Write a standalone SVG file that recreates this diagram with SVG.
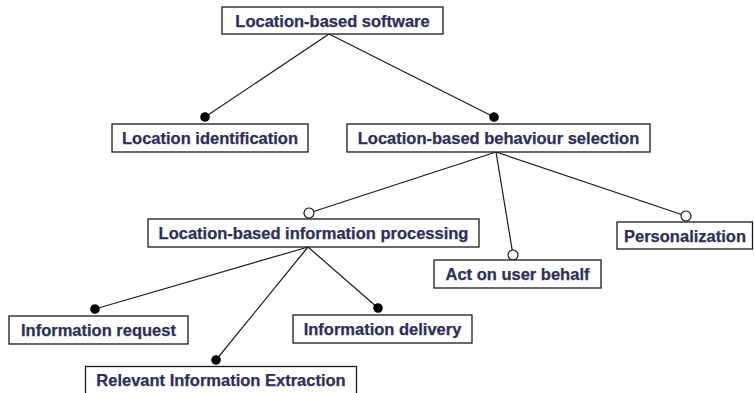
<svg xmlns="http://www.w3.org/2000/svg" width="754" height="393" viewBox="0 0 754 393">
<style>
.box{fill:#fff;stroke:#1a1a1a;stroke-width:1.3}
.lbl{font-family:"Liberation Sans",Arial,sans-serif;font-weight:bold;font-size:16.5px;fill:#2e2e58;stroke:#2e2e58;stroke-width:0.25;text-anchor:middle}
.con{fill:none;stroke:#1a1a1a;stroke-width:1.2}
.mand{marker-end:url(#filled)}
.opt{marker-end:url(#open)}
</style>
<defs>
<marker id="filled" markerUnits="userSpaceOnUse" viewBox="-6 -6 12 12" refX="0" refY="0" markerWidth="12" markerHeight="12" orient="auto">
<circle r="4.8" fill="#000"/>
</marker>
<marker id="open" markerUnits="userSpaceOnUse" viewBox="-7 -7 14 14" refX="0" refY="0" markerWidth="14" markerHeight="14" orient="auto">
<circle r="5" fill="#fff" stroke="#1a1a1a" stroke-width="1.2"/>
</marker>
</defs>
<rect width="754" height="393" fill="#fff"/>
<g id="connectors">
<path class="con mand" d="M329,34 L205,117"/>
<path class="con mand" d="M329,34 L494,117"/>
<path class="con opt" d="M496,152 L309,213"/>
<path class="con opt" d="M496,152 L513,255"/>
<path class="con opt" d="M496,152 L686,216"/>
<path class="con mand" d="M308,247 L95,309"/>
<path class="con mand" d="M308,247 L216,360"/>
<path class="con mand" d="M308,247 L378,308"/>
</g>
<g id="node-software"><rect class="box" x="222" y="7" width="221" height="27"/><text class="lbl" x="332.5" y="27">Location-based software</text></g>
<g id="node-identification"><rect class="box" x="112" y="124" width="196" height="28"/><text class="lbl" x="210" y="144">Location identification</text></g>
<g id="node-behaviour"><rect class="box" x="347" y="124" width="303" height="28"/><text class="lbl" x="498.5" y="144">Location-based behaviour selection</text></g>
<g id="node-processing"><rect class="box" x="148" y="219" width="331" height="28"/><text class="lbl" x="313.5" y="239">Location-based information processing</text></g>
<g id="node-act"><rect class="box" x="434" y="260" width="167" height="28"/><text class="lbl" x="517.5" y="280">Act on user behalf</text></g>
<g id="node-personalization"><rect class="box" x="617" y="222" width="135.5" height="27"/><text class="lbl" x="685" y="242">Personalization</text></g>
<g id="node-request"><rect class="box" x="9" y="316" width="179" height="28"/><text class="lbl" x="98.5" y="336">Information request</text></g>
<g id="node-delivery"><rect class="box" x="293" y="315" width="179" height="28"/><text class="lbl" x="382.5" y="335">Information delivery</text></g>
<g id="node-extraction"><rect class="box" x="85.5" y="366.5" width="271" height="30"/><text class="lbl" x="221" y="386">Relevant Information Extraction</text></g>
</svg>
